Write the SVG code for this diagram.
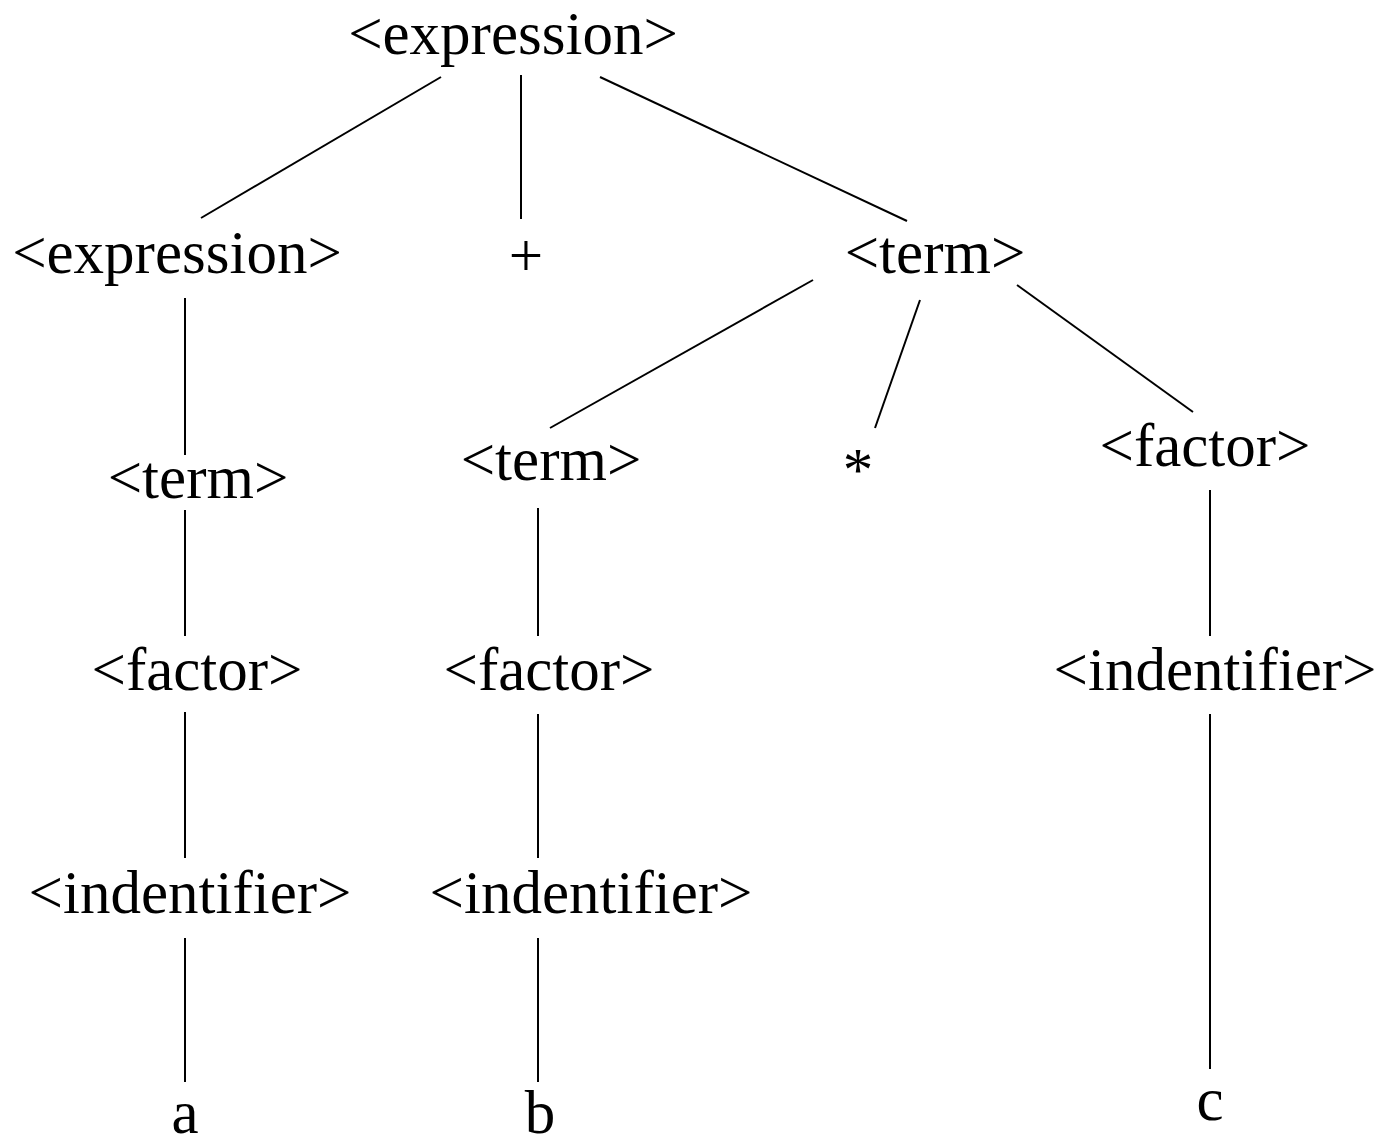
<svg xmlns="http://www.w3.org/2000/svg" width="1386" height="1140" viewBox="0 0 1386 1140">
<style>
text{font-family:"Liberation Serif","Times New Roman",serif;font-size:61px;fill:#000;text-anchor:middle}
line{stroke:#000;stroke-width:2}
</style>
<rect width="1386" height="1140" fill="#fff"/>
<g id="connectors">
<line x1="441" y1="77" x2="201" y2="218"/>
<line x1="521" y1="75" x2="521" y2="219"/>
<line x1="600" y1="77" x2="907" y2="221"/>
<line x1="185" y1="298" x2="185" y2="455"/>
<line x1="185" y1="510" x2="185" y2="636"/>
<line x1="185" y1="712" x2="185" y2="858"/>
<line x1="185" y1="938" x2="185" y2="1082"/>
<line x1="813" y1="280" x2="550" y2="428"/>
<line x1="920" y1="300" x2="875" y2="428"/>
<line x1="1017" y1="285" x2="1193" y2="412"/>
<line x1="538" y1="508" x2="538" y2="636"/>
<line x1="538" y1="714" x2="538" y2="858"/>
<line x1="538" y1="938" x2="538" y2="1082"/>
<line x1="1210" y1="490" x2="1210" y2="636"/>
<line x1="1210" y1="714" x2="1210" y2="1069"/>
</g>
<g id="n_expr_root"><text x="513" y="54">&lt;expression&gt;</text></g>
<g id="n_expr_left"><text x="177" y="273">&lt;expression&gt;</text></g>
<g id="n_plus"><text x="526" y="276">+</text></g>
<g id="n_term_right"><text x="935" y="273">&lt;term&gt;</text></g>
<g id="n_term_left"><text x="198" y="498">&lt;term&gt;</text></g>
<g id="n_term_mid"><text x="551" y="480">&lt;term&gt;</text></g>
<g id="n_star"><text x="858" y="490">*</text></g>
<g id="n_factor_right"><text x="1205" y="466">&lt;factor&gt;</text></g>
<g id="n_factor_left"><text x="197" y="690">&lt;factor&gt;</text></g>
<g id="n_factor_mid"><text x="549" y="690">&lt;factor&gt;</text></g>
<g id="n_ident_right"><text x="1215" y="690">&lt;indentifier&gt;</text></g>
<g id="n_ident_left"><text x="190" y="913">&lt;indentifier&gt;</text></g>
<g id="n_ident_mid"><text x="591" y="913">&lt;indentifier&gt;</text></g>
<g id="n_a"><text x="185" y="1133">a</text></g>
<g id="n_b"><text x="540" y="1133">b</text></g>
<g id="n_c"><text x="1210" y="1120">c</text></g>
</svg>
